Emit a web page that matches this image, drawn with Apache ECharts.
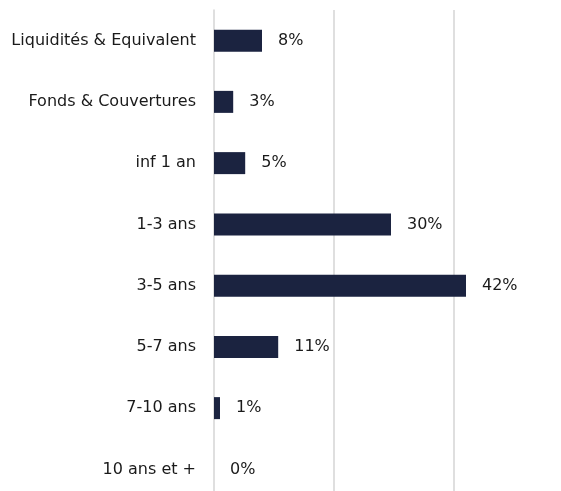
<!DOCTYPE html>
<html>
<head>
<meta charset="utf-8">
<script src="https://cdn.jsdelivr.net/npm/echarts@6/dist/echarts.min.js"></script>
<style>html,body{margin:0;padding:0;background:#fff;overflow:hidden;width:561px;height:491px}#c{width:561px;height:500px}</style>
</head>
<body>
<div id="c"></div>
<script>
const categories = ['Liquidités & Equivalent','Fonds & Couvertures','inf 1 an','1-3 ans','3-5 ans','5-7 ans','7-10 ans','10 ans et +'];
const values = [8.0, 3.2, 5.2, 29.5, 42.0, 10.7, 1.0, 0.0];

const chart = echarts.init(document.getElementById('c'));
chart.setOption({
  animation: false,
  grid: {left: 214, width: 300, top: 10, bottom: 0, containLabel: false},
  xAxis: {
    type: 'value', min: 0, max: 50, interval: 20,
    axisLabel: {show: false}, axisTick: {show: false}, axisLine: {show: false},
    splitLine: {show: true, lineStyle: {color: ['transparent', '#d4d4d4', '#d4d4d4', 'transparent'], width: 1.5}}
  },
  yAxis: {
    type: 'category', data: categories, inverse: true,
    axisTick: {show: false},
    axisLine: {show: true, lineStyle: {color: '#d4d4d4', width: 1.5}},
    axisLabel: {color: '#1a1a1a', fontSize: 16, fontFamily: 'DejaVu Sans', margin: 18}
  },
  series: [{
    type: 'bar', data: values, barWidth: 22,
    itemStyle: {color: '#1b2340'},
    label: {show: true, position: 'right', distance: 16, color: '#1a1a1a', fontSize: 16, fontFamily: 'DejaVu Sans',
      formatter: p => Math.round(p.value) + '%'}
  }]
});
</script>
</body>
</html>
